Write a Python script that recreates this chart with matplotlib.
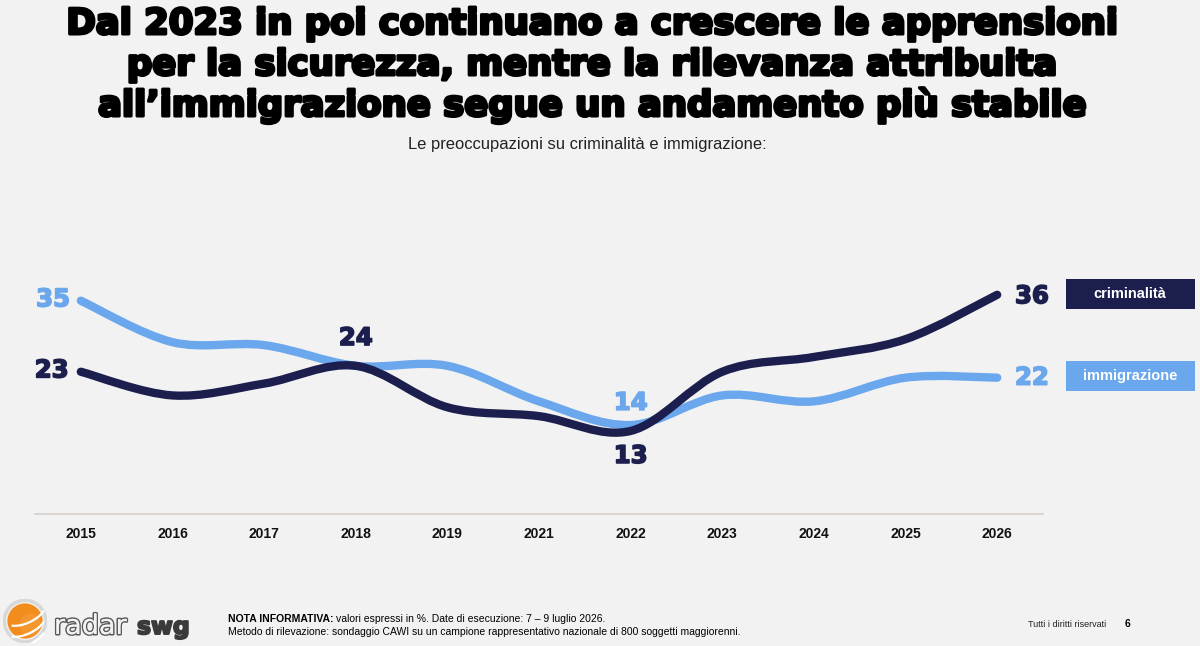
import numpy as np
import matplotlib
matplotlib.use("Agg")
import matplotlib.pyplot as plt
from matplotlib.path import Path
from matplotlib.patches import PathPatch, Rectangle, Circle, Arc
import matplotlib.patheffects as pe

# ---------------- data ----------------
years = ['2015', '2016', '2017', '2018', '2019', '2021', '2022', '2023', '2024', '2025', '2026']
criminalita = [23, 19, 21, 24, 17, 15.5, 13, 23, 25.5, 28.5, 36]
immigrazione = [35, 28, 27.5, 24, 24, 18, 14, 19, 18, 22, 22]
series_names = ['criminalità', 'immigrazione']

title_lines = ["Dal 2023 in poi continuano a crescere le apprensioni",
               "per la sicurezza, mentre la rilevanza attribuita",
               "all\u2019immigrazione segue un andamento più stabile"]
subtitle = "Le preoccupazioni su criminalità e immigrazione:"

DARK = '#1c1f4e'
LIGHT = '#6aa7ec'
BG = '#f2f2f2'

W, H = 1200, 646
fig = plt.figure(figsize=(W / 100, H / 100), dpi=100, facecolor=BG)

def fx(px):
    return px / W

def fy(py):
    return 1 - py / H

HEAVY_FAMILY = ['DejaVu Sans']

# axes: pixel x 35..1043, y 160..514
ax = fig.add_axes([fx(35), fy(514), fx(1043) - fx(35), (514 - 160) / H])
ax.set_facecolor(BG)
ax.set_xlim(-0.5, len(years) - 0.5)
ax.set_ylim(-1.03, 58.77)
for s in ['top', 'left', 'right']:
    ax.spines[s].set_visible(False)
ax.spines['bottom'].set_color('#d6d0ca')
ax.spines['bottom'].set_linewidth(1.2)
ax.set_yticks([])
ax.set_xticks(range(len(years)))
ax.set_xticklabels(years, fontsize=10, fontweight='bold', family='Liberation Sans', color='#111111')
ax.tick_params(axis='x', length=0, pad=9)


def smooth_path(xs, ys):
    pts = np.column_stack([xs, ys]).astype(float)
    n = len(pts)
    verts = [pts[0]]
    codes = [Path.MOVETO]
    for i in range(n - 1):
        p0 = pts[i - 1] if i > 0 else pts[i]
        p1 = pts[i]
        p2 = pts[i + 1]
        p3 = pts[i + 2] if i + 2 < n else pts[i + 1]
        c1 = p1 + (p2 - p0) / 6.0
        c2 = p2 - (p3 - p1) / 6.0
        verts += [c1, c2, p2]
        codes += [Path.CURVE4] * 3
    return Path(verts, codes)


xs = np.arange(len(years))
for vals, col in [(immigrazione, LIGHT), (criminalita, DARK)]:
    patch = PathPatch(smooth_path(xs, vals), facecolor='none', edgecolor=col,
                      lw=6, capstyle='round', joinstyle='round')
    ax.add_patch(patch)

# value labels (offsets in points)
def lab(i, vals, col, dx, dy):
    ax.annotate(f"{vals[i]:.0f}", (xs[i], vals[i]), xytext=(dx, dy),
                textcoords='offset points', color=col, fontsize=17.5,
                fontweight='bold', family=HEAVY_FAMILY, ha='center', va='center',
                path_effects=[pe.withStroke(linewidth=1.2, foreground=col)])

lab(0, immigrazione, LIGHT, -20, 1)
lab(0, criminalita, DARK, -21, 1)
lab(3, criminalita, DARK, 0, 20)
lab(6, immigrazione, LIGHT, 0, 16)
lab(6, criminalita, DARK, 0, -18)
lab(10, criminalita, DARK, 25, -1)
lab(10, immigrazione, LIGHT, 25, 0)

# legend boxes
for name, col, (y0, y1) in [(series_names[0], DARK, (279, 309)), (series_names[1], LIGHT, (361, 391))]:
    fig.add_artist(Rectangle((fx(1066), fy(y1)), fx(1195) - fx(1066), (y1 - y0) / H,
                             transform=fig.transFigure, facecolor=col, edgecolor='none'))
    fig.text(fx(1130), fy((y0 + y1) / 2), name, color='white', fontsize=10.5,
             fontweight='bold', family='Liberation Sans', ha='center', va='center')

# title: heavy look via bold + stroke
for k, line in enumerate(title_lines):
    fig.text(fx(592), fy(34 + 41 * k), line, fontsize=25.5, fontweight='bold',
             family=HEAVY_FAMILY, ha='center', va='baseline', color='black',
             path_effects=[pe.withStroke(linewidth=2.2, foreground='black')])
fig.text(fx(587), fy(149), subtitle, fontsize=11.9, family='Liberation Sans',
         ha='center', va='baseline', color='#222222')

# footer
fig.canvas.draw()
r = fig.canvas.get_renderer()
t1 = fig.text(fx(228), fy(622), "NOTA INFORMATIVA:", fontsize=7.5, fontweight='bold',
              family='Liberation Sans', va='baseline', color='black')
bb = t1.get_window_extent(renderer=r)
fig.text(fx(bb.x1 + 3), fy(622), "valori espressi in %. Date di esecuzione: 7 \u2013 9 luglio 2026.",
         fontsize=7.5, family='Liberation Sans', va='baseline', color='black')
fig.text(fx(228), fy(635), "Metodo di rilevazione: sondaggio CAWI su un campione rappresentativo nazionale di 800 soggetti maggiorenni.",
         fontsize=7.5, family='Liberation Sans', va='baseline', color='black')
fig.text(fx(1028), fy(627), "Tutti i diritti riservati", fontsize=6.5, family='Liberation Sans',
         va='baseline', color='#222222')
fig.text(fx(1125), fy(627), "6", fontsize=7.5, fontweight='bold', family='Liberation Sans',
         va='baseline', color='black')

# logo
logo_ax = fig.add_axes([fx(3), fy(643), fx(44), 44 / H])
logo_ax.set_xlim(0, 1); logo_ax.set_ylim(0, 1); logo_ax.axis('off')
logo_ax.add_patch(Circle((0.5, 0.5), 0.47, facecolor='none', edgecolor='#d8d8d8', lw=2.5))
logo_ax.add_patch(Circle((0.5, 0.5), 0.40, facecolor='#f28c1c', edgecolor='none'))
logo_ax.add_patch(Circle((0.62, 0.42), 0.25, facecolor='#f5a040', edgecolor='none', alpha=0.5))
for cy in [0.25, 0.5, 0.75]:
    logo_ax.add_patch(Arc((0.5, cy - 0.05), 1.0, 0.5, angle=25, theta1=200, theta2=340,
                          color='white', lw=1.6))
fig.text(fx(54), fy(634), "radar", fontsize=19.5, family='DejaVu Sans', color='#f2f2f2',
         va='baseline', path_effects=[pe.withStroke(linewidth=2.2, foreground='#5a5a5a'),
                                      pe.Normal()])
fig.text(fx(137), fy(634), "swg", fontsize=17, fontweight='bold', family='DejaVu Sans',
         color='#3a3a3a', va='baseline',
         path_effects=[pe.withStroke(linewidth=1.4, foreground='#3a3a3a')])

fig.savefig('out.png', dpi=100, facecolor=BG)
